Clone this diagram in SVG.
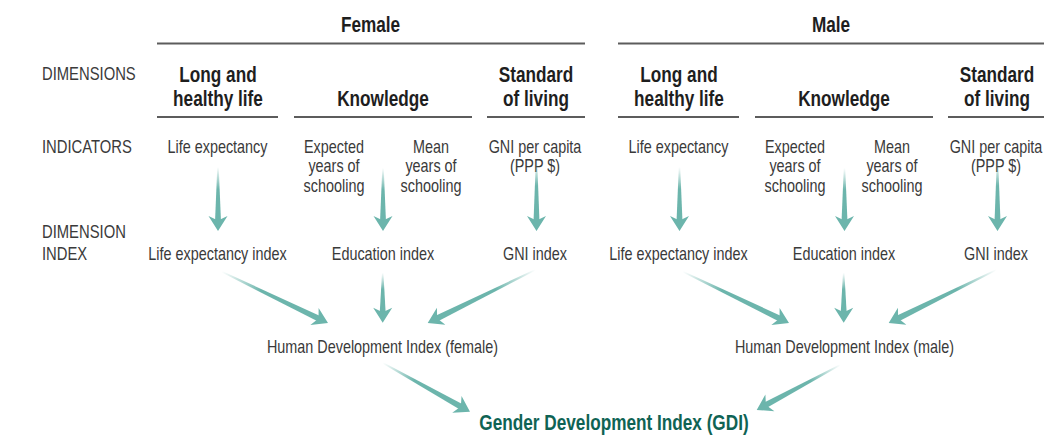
<svg xmlns="http://www.w3.org/2000/svg" width="1044" height="447" viewBox="0 0 1044 447">
<style>
text{font-family:"Liberation Sans",Arial,sans-serif;}
.hd{font-size:21.5px;font-weight:bold;fill:#1e1e1e;text-anchor:middle;}
.lb{font-size:18.5px;fill:#3a3a3a;}
.t{font-size:18px;fill:#3a3a3a;text-anchor:middle;}
.gdi{font-size:21.5px;font-weight:bold;fill:#0f6354;text-anchor:middle;}
.rule{stroke:#5c5c5c;stroke-width:2;fill:none;}
.shaft{fill:url(#fade);}
.head{fill:#6cb5ac;}
</style>
<defs>
<linearGradient id="fade" x1="0" y1="0" x2="1" y2="0">
<stop offset="0" stop-color="#6cb5ac" stop-opacity="0"/>
<stop offset="0.4" stop-color="#6cb5ac" stop-opacity="1"/>
<stop offset="1" stop-color="#6cb5ac" stop-opacity="1"/>
</linearGradient>
<path id="head" class="head" d="M0,0 L-15,-9.5 L-10.5,0 L-15,9.5 Z"/>
</defs>
<rect width="1044" height="447" fill="#ffffff"/>

<g id="rules">
<line class="rule" x1="157" y1="43.5" x2="585" y2="43.5"/>
<line class="rule" x1="618" y1="43.5" x2="1044" y2="43.5"/>
<line class="rule" x1="157" y1="117" x2="278" y2="117"/>
<line class="rule" x1="294" y1="117" x2="472" y2="117"/>
<line class="rule" x1="487" y1="117" x2="585" y2="117"/>
<line class="rule" x1="618" y1="117" x2="739" y2="117"/>
<line class="rule" x1="755" y1="117" x2="933" y2="117"/>
<line class="rule" x1="948" y1="117" x2="1044" y2="117"/>
</g>

<g id="row-labels">
<text class="lb" transform="translate(42,80) scale(0.8,1)">DIMENSIONS</text>
<text class="lb" transform="translate(42,153) scale(0.8,1)">INDICATORS</text>
<text class="lb" transform="translate(42,238) scale(0.8,1)">DIMENSION</text>
<text class="lb" transform="translate(42,260) scale(0.8,1)">INDEX</text>
</g>

<g id="female-header"><text class="hd" transform="translate(370.5,32) scale(0.8,1)">Female</text></g>
<g id="male-header"><text class="hd" transform="translate(831,32) scale(0.8,1)">Male</text></g>

<g id="f-dim-health"><text class="hd" transform="translate(218,82) scale(0.8,1)">Long and</text><text class="hd" transform="translate(218,106) scale(0.8,1)">healthy life</text></g>
<g id="f-dim-knowledge"><text class="hd" transform="translate(383,106) scale(0.8,1)">Knowledge</text></g>
<g id="f-dim-living"><text class="hd" transform="translate(536,82) scale(0.8,1)">Standard</text><text class="hd" transform="translate(536,106) scale(0.8,1)">of living</text></g>
<g id="m-dim-health"><text class="hd" transform="translate(679,82) scale(0.8,1)">Long and</text><text class="hd" transform="translate(679,106) scale(0.8,1)">healthy life</text></g>
<g id="m-dim-knowledge"><text class="hd" transform="translate(844,106) scale(0.8,1)">Knowledge</text></g>
<g id="m-dim-living"><text class="hd" transform="translate(997,82) scale(0.8,1)">Standard</text><text class="hd" transform="translate(997,106) scale(0.8,1)">of living</text></g>

<g id="f-ind-life"><text class="t" transform="translate(217.5,153) scale(0.8,1)">Life expectancy</text></g>
<g id="f-ind-expected"><text class="t" transform="translate(334,153) scale(0.8,1)">Expected</text><text class="t" transform="translate(334,172) scale(0.8,1)">years of</text><text class="t" transform="translate(334,191.5) scale(0.8,1)">schooling</text></g>
<g id="f-ind-mean"><text class="t" transform="translate(431,153) scale(0.8,1)">Mean</text><text class="t" transform="translate(431,172) scale(0.8,1)">years of</text><text class="t" transform="translate(431,191.5) scale(0.8,1)">schooling</text></g>
<g id="f-ind-gni"><text class="t" transform="translate(535,153) scale(0.8,1)">GNI per capita</text><text class="t" transform="translate(535,172) scale(0.8,1)">(PPP $)</text></g>
<g id="m-ind-life"><text class="t" transform="translate(678.5,153) scale(0.8,1)">Life expectancy</text></g>
<g id="m-ind-expected"><text class="t" transform="translate(795,153) scale(0.8,1)">Expected</text><text class="t" transform="translate(795,172) scale(0.8,1)">years of</text><text class="t" transform="translate(795,191.5) scale(0.8,1)">schooling</text></g>
<g id="m-ind-mean"><text class="t" transform="translate(892,153) scale(0.8,1)">Mean</text><text class="t" transform="translate(892,172) scale(0.8,1)">years of</text><text class="t" transform="translate(892,191.5) scale(0.8,1)">schooling</text></g>
<g id="m-ind-gni"><text class="t" transform="translate(996,153) scale(0.8,1)">GNI per capita</text><text class="t" transform="translate(996,172) scale(0.8,1)">(PPP $)</text></g>

<g id="f-idx-life"><text class="t" transform="translate(217.5,260) scale(0.8,1)">Life expectancy index</text></g>
<g id="f-idx-edu"><text class="t" transform="translate(383,260) scale(0.8,1)">Education index</text></g>
<g id="f-idx-gni"><text class="t" transform="translate(535,260) scale(0.8,1)">GNI index</text></g>
<g id="m-idx-life"><text class="t" transform="translate(678.5,260) scale(0.8,1)">Life expectancy index</text></g>
<g id="m-idx-edu"><text class="t" transform="translate(844,260) scale(0.8,1)">Education index</text></g>
<g id="m-idx-gni"><text class="t" transform="translate(996,260) scale(0.8,1)">GNI index</text></g>

<g id="f-hdi"><text class="t" transform="translate(382.5,353) scale(0.8,1)">Human Development Index (female)</text></g>
<g id="m-hdi"><text class="t" transform="translate(844.5,353) scale(0.8,1)">Human Development Index (male)</text></g>
<g id="gdi"><text class="gdi" transform="translate(614,430) scale(0.8,1)">Gender Development Index (GDI)</text></g>

<g id="connectors">
<g transform="translate(218,231) rotate(90)"><polygon class="shaft" points="-64,-0.7 -9,-3 -9,3 -64,0.7"/><use href="#head"/></g>
<g transform="translate(383,231) rotate(90)"><polygon class="shaft" points="-63,-0.7 -9,-3 -9,3 -63,0.7"/><use href="#head"/></g>
<g transform="translate(536.5,231) rotate(90)"><polygon class="shaft" points="-69,-0.7 -9,-3 -9,3 -69,0.7"/><use href="#head"/></g>
<g transform="translate(679.5,231) rotate(90)"><polygon class="shaft" points="-64,-0.7 -9,-3 -9,3 -64,0.7"/><use href="#head"/></g>
<g transform="translate(844.5,231) rotate(90)"><polygon class="shaft" points="-63,-0.7 -9,-3 -9,3 -63,0.7"/><use href="#head"/></g>
<g transform="translate(997.5,231) rotate(90)"><polygon class="shaft" points="-69,-0.7 -9,-3 -9,3 -69,0.7"/><use href="#head"/></g>

<g transform="translate(328,323) rotate(25.76)"><polygon class="shaft" points="-118,-0.7 -9,-3 -9,3 -118,0.7"/><use href="#head"/></g>
<g transform="translate(382.7,322.7) rotate(90)"><polygon class="shaft" points="-50,-0.7 -9,-3 -9,3 -50,0.7"/><use href="#head"/></g>
<g transform="translate(427.7,323) rotate(153.7)"><polygon class="shaft" points="-120,-0.7 -9,-3 -9,3 -120,0.7"/><use href="#head"/></g>
<g transform="translate(789,323) rotate(25.76)"><polygon class="shaft" points="-118,-0.7 -9,-3 -9,3 -118,0.7"/><use href="#head"/></g>
<g transform="translate(843.7,322.7) rotate(90)"><polygon class="shaft" points="-50,-0.7 -9,-3 -9,3 -50,0.7"/><use href="#head"/></g>
<g transform="translate(888.7,323) rotate(153.7)"><polygon class="shaft" points="-120,-0.7 -9,-3 -9,3 -120,0.7"/><use href="#head"/></g>

<g transform="translate(470,411.7) rotate(29.24)"><polygon class="shaft" points="-100,-0.7 -9,-3 -9,3 -100,0.7"/><use href="#head"/></g>
<g transform="translate(756.7,410) rotate(151.6)"><polygon class="shaft" points="-95,-0.7 -9,-3 -9,3 -95,0.7"/><use href="#head"/></g>
</g>
</svg>
